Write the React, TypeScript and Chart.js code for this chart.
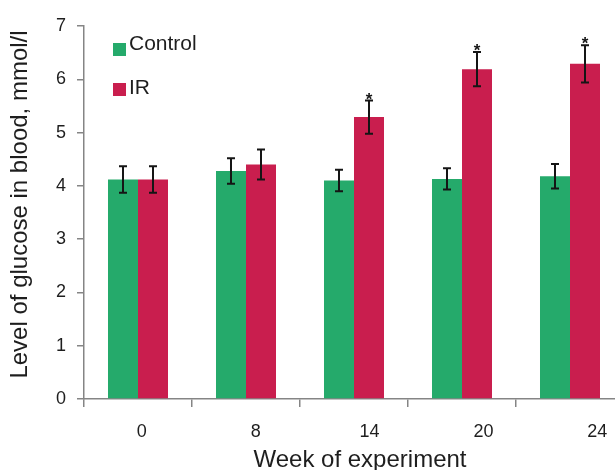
import React, { useEffect, useRef } from 'react';
import { Chart, registerables } from 'chart.js';

Chart.register(...registerables);

// ---- data ----
const weeks = ['0', '8', '14', '20', '24'];
const controlMeans = [4.12, 4.28, 4.1, 4.13, 4.18];
const controlErrors = [0.25, 0.24, 0.2, 0.2, 0.23];
const irMeans = [4.12, 4.4, 5.29, 6.19, 6.29];
const irErrors = [0.25, 0.28, 0.31, 0.32, 0.35];
const irSignificant = [false, false, true, true, true];
const controlSignificant = [false, false, false, false, false];
const yTitle = 'Level of glucose in blood, mmol/l';
const xTitle = 'Week of experiment';

// ---- styling ----
const FONT = '"Liberation Sans", Arial, Helvetica, sans-serif';
const TEXT = '#1e1e1e';
const AXIS = '#858585';
const GREEN = '#25AA6B';
const RED = '#C91E4E';

// tick-label axis range (labels in the source sit slightly right of bar groups)
const labelAxisMin = -0.507;
const labelAxisMax = 4.234;

const errorBarPlugin = {
  id: 'errorBars',
  afterDatasetsDraw(chart: any) {
    const ctx = chart.ctx;
    const y = chart.scales.y;
    chart.data.datasets.forEach((ds: any, di: number) => {
      const meta = chart.getDatasetMeta(di);
      meta.data.forEach((bar: any, i: number) => {
        const v = ds.data[i];
        const e = ds.errors[i];
        const top = y.getPixelForValue(v + e);
        const bot = y.getPixelForValue(v - e);
        ctx.save();
        ctx.strokeStyle = '#151515';
        ctx.lineWidth = 2;
        ctx.beginPath();
        ctx.moveTo(bar.x, top);
        ctx.lineTo(bar.x, bot);
        ctx.moveTo(bar.x - 4, top);
        ctx.lineTo(bar.x + 4, top);
        ctx.moveTo(bar.x - 4, bot);
        ctx.lineTo(bar.x + 4, bot);
        ctx.stroke();
        if (ds.significant[i]) {
          ctx.fillStyle = '#151515';
          ctx.font = `bold 17px ${FONT}`;
          ctx.textAlign = 'center';
          ctx.textBaseline = 'alphabetic';
          ctx.fillText('*', bar.x, top + 4);
        }
        ctx.restore();
      });
    });
  },
};

const titlesAndLegendPlugin = {
  id: 'titlesAndLegend',
  afterDraw(chart: any) {
    const { ctx, chartArea } = chart;
    // legend inside the plot
    chart.data.datasets.forEach((ds: any, i: number) => {
      const bx = chartArea.left + 29;
      const by = chartArea.top + 17 + i * 40;
      ctx.save();
      ctx.fillStyle = ds.backgroundColor;
      ctx.fillRect(bx, by, 13, 13);
      ctx.fillStyle = TEXT;
      ctx.font = `21px ${FONT}`;
      ctx.textAlign = 'left';
      ctx.textBaseline = 'alphabetic';
      ctx.fillText(ds.label, bx + 16, chartArea.top + 24 + i * 44);
      ctx.restore();
    });
    // y-axis title
    ctx.save();
    ctx.fillStyle = TEXT;
    ctx.font = `24px ${FONT}`;
    ctx.textAlign = 'center';
    ctx.textBaseline = 'middle';
    ctx.translate(20, (chartArea.top + chartArea.bottom) / 2 - 8);
    ctx.rotate(-Math.PI / 2);
    ctx.fillText(yTitle, 0, 0);
    ctx.restore();
    // x-axis title
    ctx.save();
    ctx.fillStyle = TEXT;
    ctx.font = `24px ${FONT}`;
    ctx.textAlign = 'center';
    ctx.textBaseline = 'middle';
    ctx.fillText(xTitle, (chartArea.left + chartArea.right) / 2 + 6, chartArea.bottom + 61);
    ctx.restore();
  },
};

export default function App() {
  const ref = useRef<HTMLCanvasElement | null>(null);

  useEffect(() => {
    if (!ref.current) return;
    const chart = new Chart(ref.current, {
      type: 'bar',
      data: {
        labels: weeks,
        datasets: [
          {
            label: 'Control',
            data: controlMeans,
            errors: controlErrors,
            significant: controlSignificant,
            backgroundColor: GREEN,
            borderWidth: 0,
            barPercentage: 1,
            categoryPercentage: 0.5556,
          } as any,
          {
            label: 'IR',
            data: irMeans,
            errors: irErrors,
            significant: irSignificant,
            backgroundColor: RED,
            borderWidth: 0,
            barPercentage: 1,
            categoryPercentage: 0.5556,
          } as any,
        ],
      },
      options: {
        animation: false,
        responsive: false,
        layout: { padding: { left: 8, top: 26, right: 16, bottom: 8 } },
        plugins: {
          legend: { display: false },
          tooltip: { enabled: false },
        },
        scales: {
          x: {
            type: 'category',
            position: 'bottom',
            offset: true,
            grid: {
              offset: true,
              drawOnChartArea: false,
              drawTicks: true,
              tickLength: 8,
              color: AXIS,
              lineWidth: 1.5,
            },
            border: { color: AXIS, width: 1.5 },
            ticks: { display: false },
            afterFit: (s: any) => {
              s.height = 8;
            },
          },
          xl: {
            type: 'linear',
            position: 'bottom',
            offset: false,
            min: labelAxisMin,
            max: labelAxisMax,
            grid: { display: false, offset: false },
            border: { display: false },
            afterBuildTicks: (s: any) => {
              s.ticks = weeks.map((_, i) => ({ value: i }));
            },
            afterFit: (s: any) => {
              s.height = 65;
            },
            ticks: {
              padding: 6,
              autoSkip: false,
              maxRotation: 0,
              color: TEXT,
              font: { family: FONT, size: 18 },
              callback: (v: any) => weeks[v] ?? '',
            },
          },
          y: {
            min: 0,
            max: 7,
            afterFit: (s: any) => {
              s.width = 76;
            },
            ticks: {
              stepSize: 1,
              padding: 11,
              color: TEXT,
              font: { family: FONT, size: 18 },
            },
            grid: {
              drawOnChartArea: false,
              tickLength: 7,
              color: AXIS,
              lineWidth: 1.5,
            },
            border: { color: AXIS, width: 1.5 },
          },
        } as any,
      },
      plugins: [errorBarPlugin, titlesAndLegendPlugin],
    });
    return () => chart.destroy();
  }, []);

  return (
    <div
      style={{
        position: 'absolute',
        left: 0,
        top: 0,
        width: 615,
        height: 470,
        overflow: 'hidden',
        background: '#fff',
      }}
    >
      <canvas ref={ref} width={640} height={480} style={{ display: 'block' }} />
    </div>
  );
}
